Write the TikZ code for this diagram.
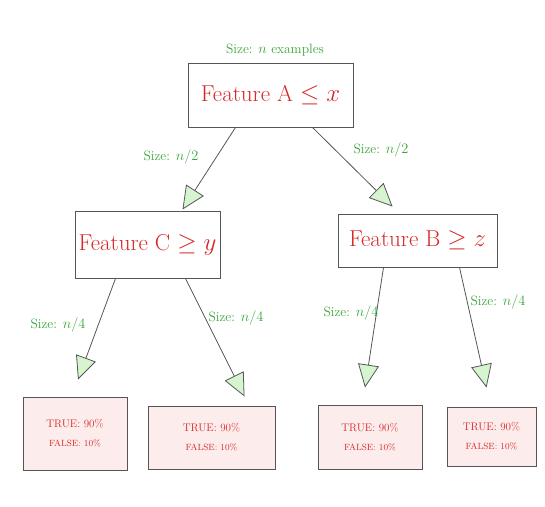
\documentclass[tikz,border=0pt]{standalone}
\usetikzlibrary{arrows.meta}
\definecolor{featred}{RGB}{214,40,40}
\definecolor{sizegreen}{RGB}{55,165,55}
\definecolor{boxgray}{RGB}{85,85,85}
\definecolor{leafpink}{RGB}{253,236,236}
\definecolor{tipgreen}{RGB}{214,244,208}
\begin{document}
\begin{tikzpicture}[x=1pt, y=-1pt,
    feat/.style={draw=boxgray, line width=0.9pt, text=featred, font=\fontsize{23}{26}\selectfont},
    leaf/.style={draw=boxgray, line width=0.9pt, fill=leafpink, text=featred, align=center, font=\fontsize{11}{13}\selectfont},
    size/.style={text=sizegreen, font=\fontsize{13.5}{15}\selectfont},
    edge/.style={draw=boxgray, line width=0.8pt, -{Triangle[length=23pt, width=21pt, fill=tipgreen]}}]
        \useasboundingbox (0,0) rectangle (545,506);
        % tree nodes
        \node[feat, minimum width=165pt, minimum height=64pt] (root) at (270.5,95) {Feature A $\leq x$};
        \node[feat, minimum width=145pt, minimum height=67pt] (featC) at (147.5,244.5) {Feature C $\geq y$};
        \node[feat, minimum width=159pt, minimum height=53pt] (featB) at (417.5,240.5) {Feature B $\geq z$};
        \node[leaf, minimum width=104pt, minimum height=73pt] (leafA) at (75,433.5) {TRUE: 90\%\\[6pt]{\small FALSE: 10\%}};
        \node[leaf, minimum width=127pt, minimum height=63pt] (leafB) at (211.5,437.5) {TRUE: 90\%\\[6pt]{\small FALSE: 10\%}};
        \node[leaf, minimum width=104pt, minimum height=64pt] (leafC) at (370,437) {TRUE: 90\%\\[6pt]{\small FALSE: 10\%}};
        \node[leaf, minimum width=89pt, minimum height=59pt] (leafD) at (491.5,436.5) {TRUE: 90\%\\[6pt]{\small FALSE: 10\%}};
        % connectors
        \draw[edge] ([xshift=-35pt]root.south) -- ([xshift=35pt,yshift=1pt]featC.north);
        \draw[edge] ([xshift=42pt]root.south) -- ([xshift=-25pt,yshift=7pt]featB.north);
        \draw[edge] ([xshift=-32pt]featC.south) -- ([xshift=3pt,yshift=17pt]leafA.north);
        \draw[edge] ([xshift=38pt]featC.south) -- ([xshift=33pt,yshift=9pt]leafB.north);
        \draw[edge] ([xshift=-34pt]featB.south) -- ([xshift=-5pt,yshift=17pt]leafC.north);
        \draw[edge] ([xshift=42pt]featB.south) -- ([xshift=-5pt,yshift=19pt]leafD.north);
        % sizes
        \node[size] (sizeRoot) at (275,50) {Size: $n$ examples};
        \node[size] (sizeC) at (171,157) {Size: $n/2$};
        \node[size] (sizeB) at (381,150) {Size: $n/2$};
        \node[size] (sizeA) at (58,325) {Size: $n/4$};
        \node[size] (sizeBl) at (236,318) {Size: $n/4$};
        \node[size] (sizeCl) at (351,313) {Size: $n/4$};
        \node[size] (sizeD) at (498,302) {Size: $n/4$};
\end{tikzpicture}
\end{document}
